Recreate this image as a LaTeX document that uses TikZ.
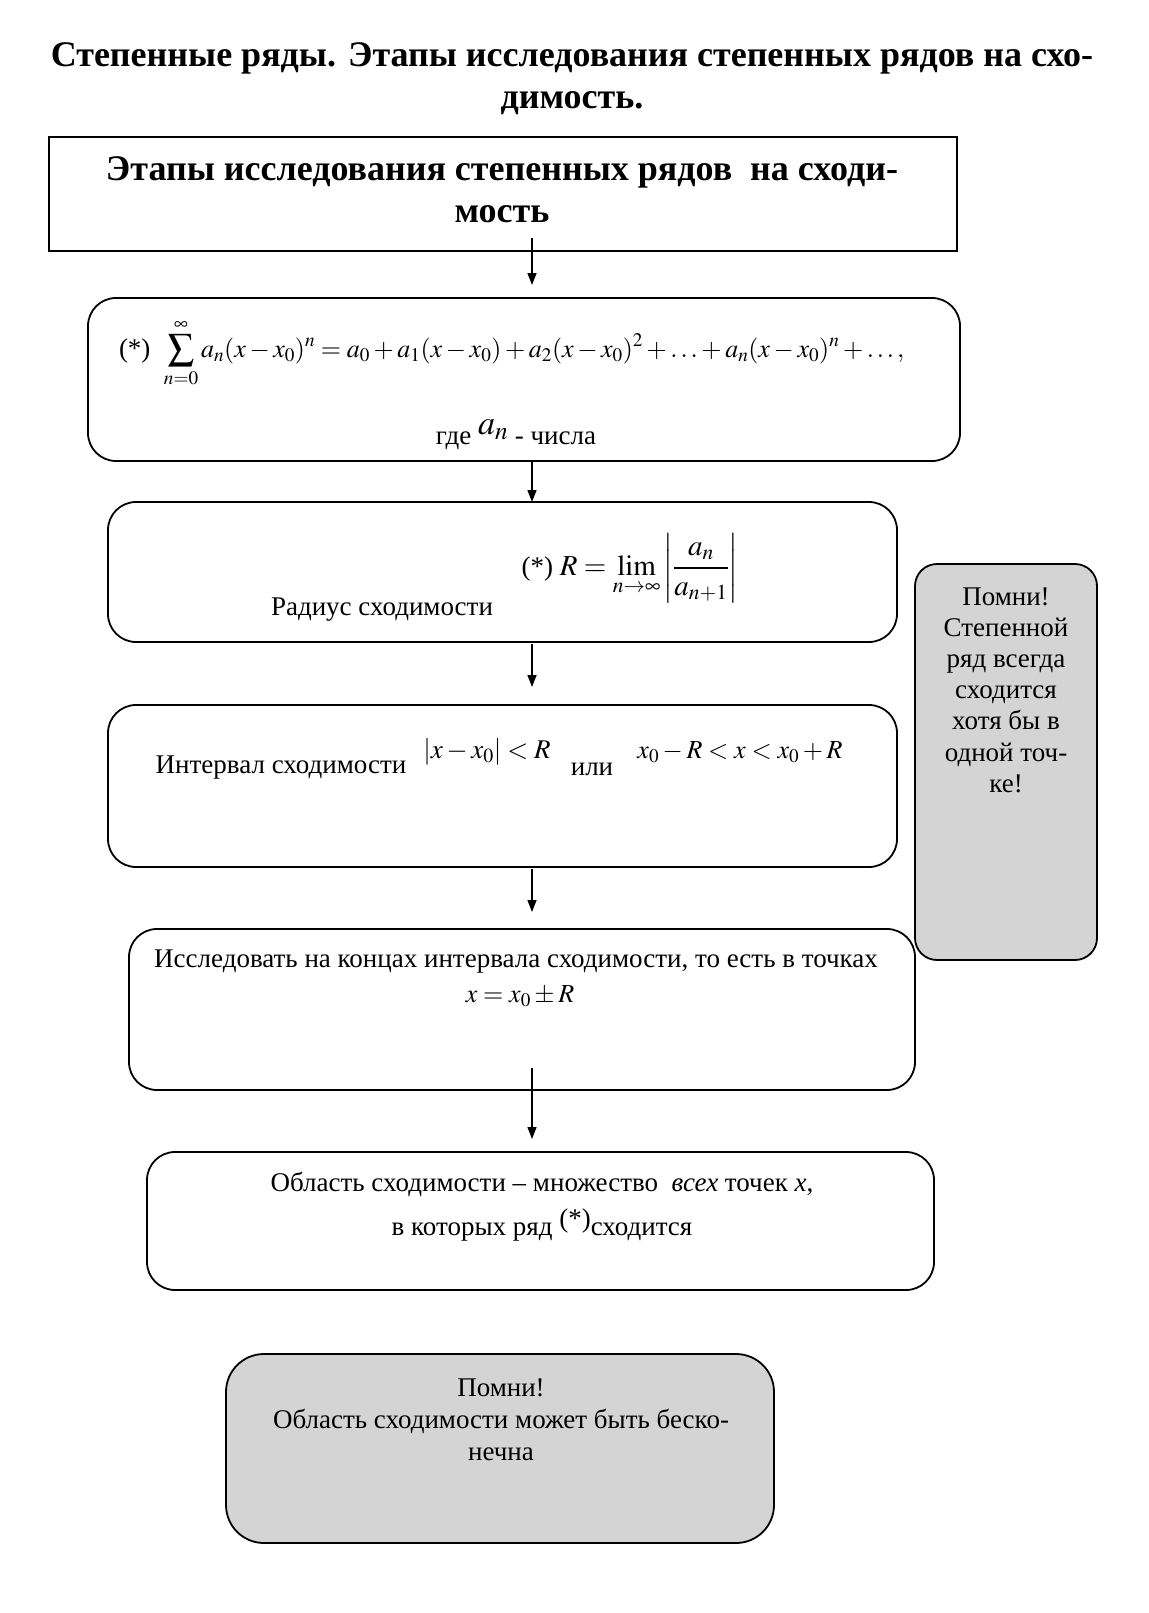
\documentclass[tikz,border=0pt]{standalone}
\usepackage{mathptmx}
\usepackage{fontspec}
\setmainfont{Liberation Serif}
\usetikzlibrary{arrows.meta}
\begin{document}
\begin{tikzpicture}[x=1pt,y=-1pt,
  every node/.style={inner sep=0pt, outer sep=0pt},
  txt/.style={font=\fontsize{27}{31}\selectfont},
  ttl/.style={font=\fontsize{36}{42}\selectfont\bfseries, align=center},
  plainbox/.style={draw, line width=1.8pt},
  box/.style={draw, line width=1.8pt, rounded corners=28pt},
  note/.style={draw, line width=1.8pt, rounded corners=26pt, fill=black!17},
  arr/.style={line width=1.4pt, -{Triangle[length=12pt,width=9pt]}}
]
\useasboundingbox (0,0) rectangle (1148,1613);

% title
\node[ttl] (title) at (572,79) {Степенные ряды. Этапы исследования степенных рядов на схо-\\димость.};

% boxes
\node[plainbox, minimum width=908pt, minimum height=114pt] (b1) at (503,194) {};
\node[box, minimum width=872pt, minimum height=163pt] (b2) at (524,379.5) {};
\node[box, minimum width=789pt, minimum height=140pt] (b3) at (502.5,572) {};
\node[box, minimum width=789pt, minimum height=162pt] (b4) at (502.5,786) {};
\node[box, minimum width=786pt, minimum height=161pt] (b5) at (522,1009.5) {};
\node[box, minimum width=787pt, minimum height=138pt] (b6) at (540.5,1221) {};
\node[note, rounded corners=38pt, minimum width=548pt, minimum height=189pt] (b7) at (500,1448.5) {};
\node[note, rounded corners=22pt, minimum width=182pt, minimum height=396pt] (side) at (1006,762) {};

% texts
\node[ttl] (t1) at (502,190) {Этапы исследования степенных рядов\ \ на сходи-\\мость};

\node[txt, anchor=west] (t2a) at (119,353) {(*)\enspace\fontsize{26}{30}\selectfont$\displaystyle\sum_{n=0}^{\infty}a_n(x-x_0)^n=a_0+a_1(x-x_0)+a_2(x-x_0)^2+\ldots+a_n(x-x_0)^n+\ldots,$};
\node[txt] (t2b) at (516,435) {где \raisebox{10pt}{\fontsize{34}{34}\selectfont$a_n$} - числа};

\node[txt] (t3a) at (630,568) {(*) \fontsize{29}{32}\selectfont$\displaystyle R=\lim_{n\to\infty}\left|\frac{a_n}{a_{n+1}}\right|$};
\node[txt] (t3b) at (382,610) {Радиус сходимости};

\node[txt] (t4a) at (281,768) {Интервал сходимости};
\node[txt] (t4b) at (487,752) {$|x-x_0|<R$};
\node[txt] (t4c) at (592,769) {или};
\node[txt] (t4d) at (740,752) {\fontsize{26}{30}\selectfont$x_0-R<x<x_0+R$};

\node[txt] (t5a) at (516,962) {Исследовать на концах интервала сходимости, то есть в точках};
\node[txt] (t5b) at (520,996) {\fontsize{26}{30}\selectfont$x=x_0\pm R$};

\node[txt] (t6a) at (542,1184) {Область сходимости – множество\ \ \textit{всех} точек \textit{x},};
\node[txt] (t6b) at (542,1225) {в которых ряд \raisebox{8pt}{(*)}сходится};

\node[txt, align=center, font=\fontsize{27}{32}\selectfont] (t7) at (501,1420) {Помни!\\Область сходимости может быть беско-\\нечна};

\node[txt, align=center, font=\fontsize{27}{31.2}\selectfont] (ts) at (1006,690) {Помни!\\Степенной\\ряд всегда\\сходится\\хотя бы в\\одной точ-\\ке!};

% arrows
\coordinate (a1s) at (532,238);
\coordinate (a1e) at (532,285);
\coordinate (a2s) at (532,461);
\coordinate (a2e) at (532,502);
\coordinate (a3s) at (532,644);
\coordinate (a3e) at (532,687);
\coordinate (a4s) at (532,869);
\coordinate (a4e) at (532,912);
\coordinate (a5s) at (532,1068);
\coordinate (a5e) at (532,1139);
\draw[arr] (a1s) -- (a1e);
\draw[arr] (a2s) -- (a2e);
\draw[arr] (a3s) -- (a3e);
\draw[arr] (a4s) -- (a4e);
\draw[arr] (a5s) -- (a5e);
\end{tikzpicture}
\end{document}
